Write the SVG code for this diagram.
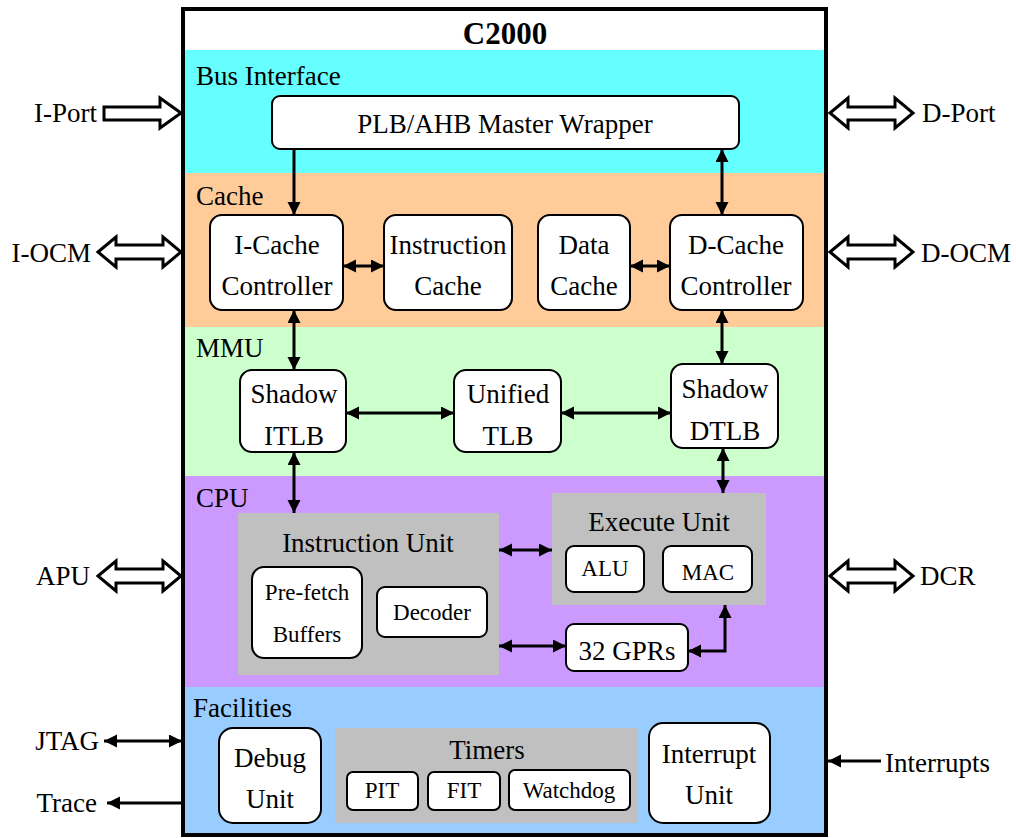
<svg xmlns="http://www.w3.org/2000/svg" width="1016" height="838" viewBox="0 0 1016 838" font-family="'Liberation Serif', 'Times New Roman', serif">
<defs>
<style>
text{font-family:'Liberation Serif','Times New Roman',serif;fill:#000}
.lg{font-size:27px}
.sm{font-size:23px}
.c{text-anchor:middle}
.e{text-anchor:end}
.box{fill:#fff;stroke:#000;stroke-width:2}
.gray{fill:#c0c0c0}
.conn{fill:none;stroke:#000;stroke-width:3}
.hollow{fill:#fff;stroke:#000;stroke-width:3;stroke-linejoin:miter}
</style>
<marker id="ah" markerUnits="userSpaceOnUse" markerWidth="14" markerHeight="14" refX="13" refY="6.5" orient="auto-start-reverse" viewBox="0 0 14 14">
<path d="M0,0 L13,6.5 L0,13 z" fill="#000"/>
</marker>
</defs>

<g id="bands">
<rect x="183" y="50" width="643" height="123" fill="#66ffff"/>
<rect x="183" y="173" width="643" height="154" fill="#ffcc99"/>
<rect x="183" y="327" width="643" height="149" fill="#ccffcc"/>
<rect x="183" y="476" width="643" height="211" fill="#cc99ff"/>
<rect x="183" y="687" width="643" height="149" fill="#99ccff"/>
<rect x="183" y="9" width="643" height="826" fill="none" stroke="#000" stroke-width="4"/>
<text x="505" y="44" class="c" style="font-size:31px;font-weight:bold">C2000</text>
<text x="196" y="85" class="lg">Bus Interface</text>
<text x="196" y="205" class="lg">Cache</text>
<text x="196" y="357" class="lg">MMU</text>
<text x="196" y="507" class="lg">CPU</text>
<text x="193" y="717" class="lg">Facilities</text>
</g>

<g id="plb"><rect class="box" x="272" y="96" width="467" height="53" rx="8"/><text x="505" y="133" class="lg c">PLB/AHB Master Wrapper</text></g>

<g id="icache-ctrl"><rect class="box" x="210" y="215" width="133" height="95" rx="12"/><text x="277" y="254" class="lg c">I-Cache</text><text x="277" y="295" class="lg c">Controller</text></g>
<g id="instr-cache"><rect class="box" x="384" y="215" width="128" height="95" rx="12"/><text x="448" y="254" class="lg c">Instruction</text><text x="448" y="295" class="lg c">Cache</text></g>
<g id="data-cache"><rect class="box" x="538" y="215" width="92" height="95" rx="12"/><text x="584" y="254" class="lg c">Data</text><text x="584" y="295" class="lg c">Cache</text></g>
<g id="dcache-ctrl"><rect class="box" x="670" y="215" width="133" height="95" rx="12"/><text x="736" y="254" class="lg c">D-Cache</text><text x="736" y="295" class="lg c">Controller</text></g>

<g id="shadow-itlb"><rect class="box" x="240" y="370" width="106" height="82" rx="12"/><text x="294" y="403" class="lg c">Shadow</text><text x="294" y="445" class="lg c">ITLB</text></g>
<g id="unified-tlb"><rect class="box" x="454" y="370" width="107" height="82" rx="12"/><text x="508" y="403" class="lg c">Unified</text><text x="508" y="445" class="lg c">TLB</text></g>
<g id="shadow-dtlb"><rect class="box" x="671" y="364" width="107" height="84" rx="12"/><text x="725" y="398" class="lg c">Shadow</text><text x="725" y="440" class="lg c">DTLB</text></g>

<g id="instruction-unit">
<rect class="gray" x="238" y="513" width="261" height="162"/>
<text x="368" y="552" class="lg c">Instruction Unit</text>
<g id="prefetch"><rect class="box" x="252" y="567" width="110" height="91" rx="12"/><text x="307" y="600" class="sm c">Pre-fetch</text><text x="307" y="642" class="sm c">Buffers</text></g>
<g id="decoder"><rect class="box" x="377" y="587" width="110" height="50" rx="8"/><text x="432" y="620" class="sm c">Decoder</text></g>
</g>
<g id="execute-unit">
<rect class="gray" x="552" y="493" width="214" height="112"/>
<text x="659" y="531" class="lg c">Execute Unit</text>
<g id="alu"><rect class="box" x="566" y="546" width="78" height="46" rx="8"/><text x="605" y="576" class="sm c">ALU</text></g>
<g id="mac"><rect class="box" x="663" y="546" width="89" height="46" rx="8"/><text x="708" y="580" class="sm c">MAC</text></g>
</g>
<g id="gprs"><rect class="box" x="566" y="624" width="122" height="47" rx="8"/><text x="627" y="660" class="lg c">32 GPRs</text></g>

<g id="debug-unit"><rect class="box" x="219" y="728" width="102" height="95" rx="14"/><text x="270" y="767" class="lg c">Debug</text><text x="270" y="808" class="lg c">Unit</text></g>
<g id="timers">
<rect class="gray" x="335" y="728" width="303" height="95"/>
<text x="487" y="759" class="lg c">Timers</text>
<g id="pit"><rect class="box" x="347" y="772" width="71" height="38" rx="6"/><text x="382" y="798" class="sm c">PIT</text></g>
<g id="fit"><rect class="box" x="428" y="772" width="72" height="38" rx="6"/><text x="464" y="798" class="sm c">FIT</text></g>
<g id="watchdog"><rect class="box" x="509" y="770" width="121" height="40" rx="6"/><text x="569" y="798" class="sm c">Watchdog</text></g>
</g>
<g id="interrupt-unit"><rect class="box" x="649" y="723" width="121" height="100" rx="14"/><text x="709" y="763" class="lg c">Interrupt</text><text x="709" y="804" class="lg c">Unit</text></g>

<g id="ports">
<polygon class="hollow" points="104,107 160,107 160,98 181,113 160,128 160,120 104,120"/>
<text x="97" y="122" class="lg e">I-Port</text>
<polygon class="hollow" points="830,113 848,98 848,107 895,107 895,98 913,113 895,128 895,120 848,120 848,128"/>
<text x="922" y="122" class="lg">D-Port</text>
<polygon class="hollow" points="98,252 116,237 116,245 163,245 163,237 181,252 163,267 163,259 116,259 116,267"/>
<text x="91" y="262" class="lg e">I-OCM</text>
<polygon class="hollow" points="830,252 848,237 848,245 895,245 895,237 913,252 895,267 895,259 848,259 848,267"/>
<text x="921" y="262" class="lg">D-OCM</text>
<polygon class="hollow" points="98,576 116,561 116,569 163,569 163,561 181,576 163,591 163,583 116,583 116,591"/>
<text x="90" y="585" class="lg e">APU</text>
<polygon class="hollow" points="830,576 848,561 848,569 895,569 895,561 913,576 895,591 895,583 848,583 848,591"/>
<text x="920" y="585" class="lg">DCR</text>
<text x="99" y="750" class="lg e">JTAG</text>
<text x="97" y="812" class="lg e">Trace</text>
<text x="885" y="772" class="lg">Interrupts</text>
</g>

<g id="connectors">
<line class="conn" x1="294" y1="149" x2="294" y2="215" marker-end="url(#ah)"/>
<line class="conn" x1="722" y1="149" x2="722" y2="215" marker-start="url(#ah)" marker-end="url(#ah)"/>
<line class="conn" x1="343" y1="266" x2="384" y2="266" marker-start="url(#ah)" marker-end="url(#ah)"/>
<line class="conn" x1="630" y1="266" x2="670" y2="266" marker-start="url(#ah)" marker-end="url(#ah)"/>
<line class="conn" x1="294" y1="310" x2="294" y2="370" marker-start="url(#ah)" marker-end="url(#ah)"/>
<line class="conn" x1="722" y1="310" x2="722" y2="364" marker-start="url(#ah)" marker-end="url(#ah)"/>
<line class="conn" x1="346" y1="413" x2="454" y2="413" marker-start="url(#ah)" marker-end="url(#ah)"/>
<line class="conn" x1="561" y1="413" x2="671" y2="413" marker-start="url(#ah)" marker-end="url(#ah)"/>
<line class="conn" x1="294" y1="452" x2="294" y2="513" marker-start="url(#ah)" marker-end="url(#ah)"/>
<line class="conn" x1="723" y1="448" x2="723" y2="493" marker-start="url(#ah)" marker-end="url(#ah)"/>
<line class="conn" x1="499" y1="550" x2="552" y2="550" marker-start="url(#ah)" marker-end="url(#ah)"/>
<line class="conn" x1="499" y1="646" x2="566" y2="646" marker-start="url(#ah)" marker-end="url(#ah)"/>
<polyline class="conn" points="688,651 725,651 725,605" marker-start="url(#ah)" marker-end="url(#ah)"/>
<line class="conn" x1="104" y1="741" x2="182" y2="741" marker-start="url(#ah)" marker-end="url(#ah)"/>
<line class="conn" x1="182" y1="803" x2="107" y2="803" marker-end="url(#ah)"/>
<line class="conn" x1="881" y1="761" x2="828" y2="761" marker-end="url(#ah)"/>
</g>
</svg>
